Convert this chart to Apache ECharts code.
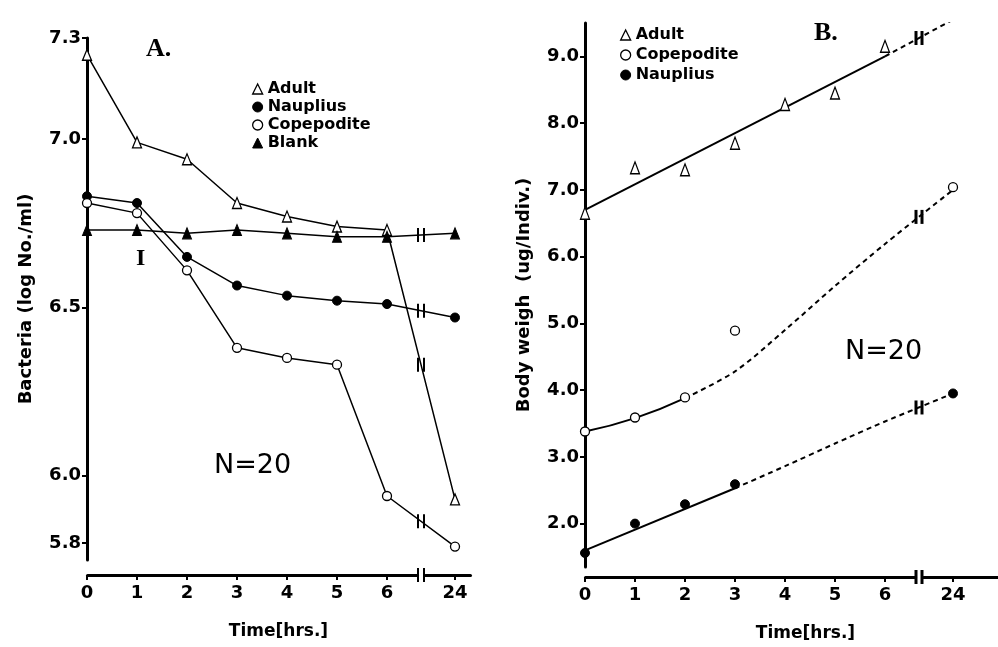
<!DOCTYPE html>
<html>
<head>
<meta charset="utf-8">
<script src="https://cdn.jsdelivr.net/npm/echarts@6/dist/echarts.min.js"></script>
<style>
  html, body { margin: 0; padding: 0; background: #fff; }
  #chart { width: 998px; height: 647px; }
</style>
</head>
<body>
<div id="chart"></div>
<script>
// hours on the x axis (6 -> 24 is a broken axis)
const hours = [0, 1, 2, 3, 4, 5, 6, 24];
const yTicksA = [5.8, 6.0, 6.5, 7.0, 7.3];
const yTicksB = [2, 3, 4, 5, 6, 7, 8, 9];

// A. bacteria (log No./ml)
const adultA      = [7.25, 6.99, 6.94, 6.81, 6.77, 6.74, 6.73, 5.93];
const naupliusA   = [6.83, 6.81, 6.65, 6.565, 6.535, 6.52, 6.51, 6.47];
const copepoditeA = [6.81, 6.78, 6.61, 6.38, 6.35, 6.33, 5.94, 5.79];
const blankA      = [6.73, 6.73, 6.72, 6.73, 6.72, 6.71, 6.71, 6.72];

// B. body weight (ug/indiv.)
const adultB          = [6.65, 7.33, 7.3, 7.7, 8.28, 8.45, 9.15, 9.61];
const copepoditeHours = [0, 1, 2, 3, 24];
const copepoditeB     = [3.38, 3.59, 3.89, 4.89, 7.04];
const naupliusHours   = [0, 1, 2, 3, 24];
const naupliusB       = [1.56, 2.0, 2.29, 2.59, 3.95];

// fitted lines in B (solid part, dashed part)
const adultFitSolid = [[0, 6.7], [6, 9.0]];
const adultFitDash  = [[6, 9.0], [24, 9.55]];
const copeFitSolid  = [[0, 3.38], [1, 3.58], [2, 3.88]];
const copeFitDash   = [[2, 3.88], [3, 4.28], [4, 4.9], [5, 5.56], [6, 6.19], [24, 7.0]];
const naupFitSolid  = [[0, 1.6], [3, 2.53]];
const naupFitDash   = [[3, 2.53], [4, 2.86], [5, 3.2], [6, 3.53], [24, 3.95]];

const FONT = '"DejaVu Sans", "Liberation Sans", sans-serif';
const SERIF = '"Liberation Serif", "DejaVu Serif", serif';

const pairs = (xs, ys) => xs.map((x, i) => [x, ys[i]]);

// "||" break marks halfway between hour 6 and hour 24
function breakMarks(width) {
  return function (params, api) {
    const a = api.coord([6, api.value(1)]);
    const b = api.coord([24, api.value(2)]);
    const x = (a[0] + b[0]) / 2;
    let y = (a[1] + b[1]) / 2;
    if (api.value(3)) {
      y = params.coordSys.y + params.coordSys.height + api.value(3);
    }
    const h = 7, d = 3;
    const st = { stroke: '#000', lineWidth: width };
    return {
      type: 'group',
      children: [
        { type: 'line', shape: { x1: x - d, y1: y - h, x2: x - d, y2: y + h }, style: st },
        { type: 'line', shape: { x1: x + d, y1: y - h, x2: x + d, y2: y + h }, style: st }
      ]
    };
  };
}

const openStyle = { color: '#fff', borderColor: '#000', borderWidth: 1.3, opacity: 1 };
const fillStyle = { color: '#000', borderColor: '#000', borderWidth: 1, opacity: 1 };

function xAxisOf(gridIndex, max, offset, nameShift) {
  return {
    type: 'value',
    gridIndex: gridIndex,
    min: 0,
    max: max,
    offset: offset,
    breaks: [{ start: 6.6, end: 23.4, gap: 0.16 }],
    breakArea: { show: false },
    name: 'Time[hrs.]',
    nameLocation: 'middle',
    nameGap: 48,
    nameTextStyle: { color: '#000', fontFamily: FONT, fontWeight: 'bold', fontSize: 17, padding: [0, 0, 0, nameShift] },
    axisLine: { show: true, lineStyle: { color: '#000', width: 3 } },
    axisTick: { show: true, inside: false, length: 5, customValues: hours, lineStyle: { color: '#000', width: 2 } },
    axisLabel: {
      customValues: hours, color: '#000', fontFamily: FONT, fontWeight: 'bold', fontSize: 18, margin: 9,
      formatter: v => String(v)
    },
    splitLine: { show: false }
  };
}

function yAxisOf(gridIndex, min, max, ticks, name) {
  return {
    type: 'value',
    gridIndex: gridIndex,
    min: min,
    max: max,
    name: name,
    nameLocation: 'middle',
    nameGap: 52,
    nameTextStyle: { color: '#000', fontFamily: FONT, fontWeight: 'bold', fontSize: 18 },
    axisLine: { show: true, lineStyle: { color: '#000', width: 3 } },
    axisTick: { show: true, length: 5, customValues: ticks, lineStyle: { color: '#000', width: 2 } },
    axisLabel: {
      customValues: ticks, color: '#000', fontFamily: FONT, fontWeight: 'bold', fontSize: 18, margin: 6,
      formatter: v => v.toFixed(1)
    },
    splitLine: { show: false }
  };
}

function lineA(name, data, symbol, style) {
  return {
    name: name, type: 'line', xAxisIndex: 0, yAxisIndex: 0,
    data: pairs(hours, data),
    symbol: symbol, symbolSize: symbol === 'triangle' ? [9, 11] : 9,
    itemStyle: style,
    lineStyle: { color: '#000', width: 1.5 },
    z: 3
  };
}

function fitB(data, dashed, smooth) {
  return {
    type: 'line', xAxisIndex: 1, yAxisIndex: 1,
    data: data, symbol: 'none', smooth: smooth,
    lineStyle: { color: '#000', width: 2, type: dashed ? [5, 4] : 'solid' },
    z: 2
  };
}

function scatterB(name, data, symbol, style) {
  return {
    name: name, type: 'scatter', xAxisIndex: 1, yAxisIndex: 1,
    data: data, symbol: symbol, symbolSize: symbol === 'triangle' ? [9, 12] : 9,
    itemStyle: style, z: 4
  };
}

const legendText = { color: '#000', fontFamily: FONT, fontWeight: 'bold', fontSize: 16 };

const chart = echarts.init(document.getElementById('chart'));
chart.setOption({
  animation: false,
  backgroundColor: '#fff',
  textStyle: { fontFamily: FONT, color: '#000' },
  grid: [
    { left: 87, top: 38, width: 383, bottom: 87, containLabel: false, outerBoundsMode: 'none' },
    { left: 585, top: 23, width: 413, bottom: 80, containLabel: false, outerBoundsMode: 'none' }
  ],
  xAxis: [xAxisOf(0, 24.3, 15, 0), xAxisOf(1, 24.9, 10, 28)],
  yAxis: [
    yAxisOf(0, 5.75, 7.3, yTicksA, 'Bacteria (log No./ml)'),
    yAxisOf(1, 1.35, 9.5, yTicksB, 'Body weigh  (ug/Indiv.)')
  ],
  legend: [
    {
      orient: 'vertical', left: 247, top: 76, itemWidth: 10, itemHeight: 10, itemGap: 2,
      selectedMode: false, textStyle: legendText,
      data: [
        { name: 'Adult', icon: 'triangle', itemStyle: openStyle },
        { name: 'Nauplius', icon: 'circle', itemStyle: fillStyle },
        { name: 'Copepodite', icon: 'circle', itemStyle: openStyle },
        { name: 'Blank', icon: 'triangle', itemStyle: fillStyle }
      ]
    },
    {
      orient: 'vertical', left: 615, top: 22, itemWidth: 10, itemHeight: 10, itemGap: 4,
      selectedMode: false, textStyle: legendText,
      data: [
        { name: 'Adult', icon: 'triangle', itemStyle: openStyle },
        { name: 'Copepodite', icon: 'circle', itemStyle: openStyle },
        { name: 'Nauplius', icon: 'circle', itemStyle: fillStyle }
      ]
    }
  ],
  graphic: [
    { type: 'text', left: 146, top: 36, style: { text: 'A.', font: 'bold 26px ' + SERIF, fill: '#000' } },
    { type: 'text', left: 814, top: 20, style: { text: 'B.', font: 'bold 26px ' + SERIF, fill: '#000' } },
    { type: 'text', left: 136, top: 247, style: { text: 'I', font: 'bold 24px ' + SERIF, fill: '#000' } },
    { type: 'text', left: 214, top: 452, style: { text: 'N=20', font: '27px ' + FONT, fill: '#000' } },
    { type: 'text', left: 845, top: 338, style: { text: 'N=20', font: '27px ' + FONT, fill: '#000' } }
  ],
  series: [
    lineA('Adult', adultA, 'triangle', openStyle),
    lineA('Nauplius', naupliusA, 'circle', fillStyle),
    lineA('Copepodite', copepoditeA, 'circle', openStyle),
    lineA('Blank', blankA, 'triangle', fillStyle),
    {
      type: 'custom', xAxisIndex: 0, yAxisIndex: 0, renderItem: breakMarks(2), z: 5,
      encode: { x: 0, y: 1 }, clip: false, silent: true,
      data: [
        [6, adultA[6], adultA[7], 0],
        [6, naupliusA[6], naupliusA[7], 0],
        [6, copepoditeA[6], copepoditeA[7], 0],
        [6, blankA[6], blankA[7], 0],
        [6, 5.75, 5.75, 15]
      ]
    },
    fitB(adultFitSolid, false, false),
    fitB(adultFitDash, true, false),
    fitB(copeFitSolid, false, true),
    fitB(copeFitDash, true, 0.3),
    fitB(naupFitSolid, false, false),
    fitB(naupFitDash, true, 0.2),
    scatterB('Adult', pairs(hours, adultB), 'triangle', openStyle),
    scatterB('Copepodite', pairs(copepoditeHours, copepoditeB), 'circle', openStyle),
    scatterB('Nauplius', pairs(naupliusHours, naupliusB), 'circle', fillStyle),
    {
      type: 'custom', xAxisIndex: 1, yAxisIndex: 1, renderItem: breakMarks(3), z: 5,
      encode: { x: 0, y: 1 }, clip: false, silent: true,
      data: [
        [6, adultFitDash[0][1], adultFitDash[1][1], 0],
        [6, copeFitDash[4][1], copeFitDash[5][1], 0],
        [6, naupFitDash[3][1], naupFitDash[4][1], 0],
        [6, 1.35, 1.35, 10]
      ]
    }
  ]
});

window.addEventListener('resize', function () {
  chart.resize();
});
</script>
</body>
</html>
